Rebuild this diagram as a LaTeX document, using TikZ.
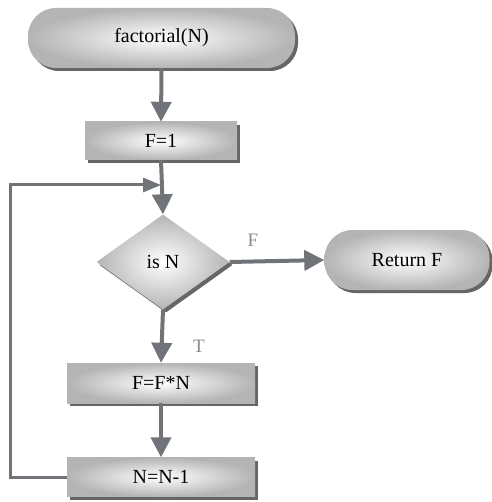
\documentclass[tikz,border=0pt]{standalone}
\usepackage{fontspec}
\setmainfont{Liberation Serif}
\usetikzlibrary{shapes.geometric,arrows.meta,shadows}

\definecolor{linegray}{HTML}{707478}
\definecolor{boxgray}{HTML}{B4B4B4}
\definecolor{shadowgray}{HTML}{666666}
\definecolor{labelgray}{HTML}{8A8A8A}

\tikzset{
  shaded/.style={inner color=white, outer color=boxgray, draw=none,
    drop shadow={shadow xshift=3pt, shadow yshift=-3pt, fill=shadowgray, opacity=1},
    font=\fontsize{20}{22}\selectfont, text=black},
  terminal/.style={shaded, rectangle, rounded corners=28pt},
  procbox/.style={shaded, rectangle},
  decision/.style={shaded, diamond, inner sep=0pt, minimum width=133pt, minimum height=95pt},
  flowline/.style={draw=linegray, line width=4pt, -{Triangle[length=20pt,width=20pt]}},
  loopline/.style={draw=linegray, line width=3pt, -{Triangle[length=18pt,width=14pt]}},
  branchlabel/.style={text=labelgray, font=\fontsize{19}{21}\selectfont}
}

\begin{document}
\begin{tikzpicture}[x=1pt, y=-1pt]
  \useasboundingbox (0,0) rectangle (491,502);

  % nodes of the flowchart
  \node[terminal, minimum width=267pt, minimum height=60pt] (start) at (161.5,38) {factorial(N)};
  \node[procbox, minimum width=152pt, minimum height=38pt] (init) at (161,141) {F=1};
  \node[decision] (cond) at (163,262) {is N};
  \node[terminal, minimum width=165pt, minimum height=60pt] (ret) at (407,260) {Return F};
  \node[procbox, minimum width=188pt, minimum height=40pt] (mult) at (161,383) {F=F*N};
  \node[procbox, minimum width=188pt, minimum height=39pt] (dec) at (161,477) {N=N-1};

  % entry point of the loop back into the main line
  \coordinate (loopin) at (161,185);

  % connectors
  \draw[flowline] (start.south) -- (init.north);
  \draw[flowline] (init.south) -- (cond.north);
  \draw[flowline] (cond.east) -- (ret.west);
  \draw[flowline] (cond.south) -- (mult.north);
  \draw[flowline] (mult.south) -- (dec.north);
  \draw[loopline] (dec.west) -- ++(-56,0) |- (loopin);

  % branch labels
  \node[branchlabel] (lblF) at (253,240) {F};
  \node[branchlabel] (lblT) at (199,346) {T};
\end{tikzpicture}
\end{document}
